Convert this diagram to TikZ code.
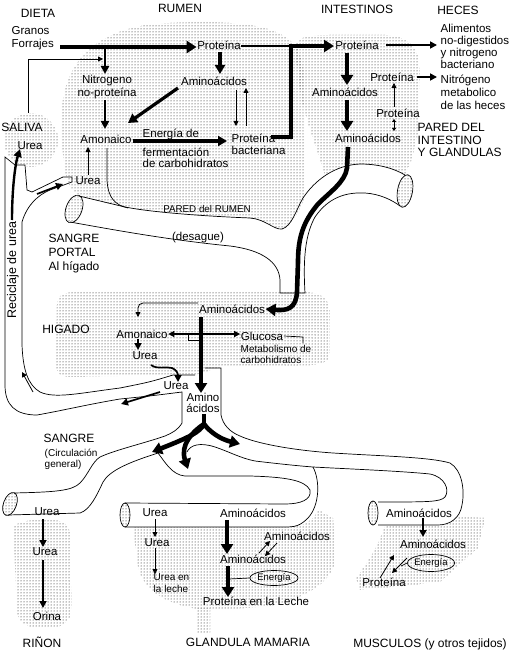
\documentclass[tikz,border=0pt]{standalone}
\usepackage{fontspec}
\setmainfont{Liberation Sans}
\usetikzlibrary{arrows.meta,patterns,shapes.geometric}
\begin{document}
\begin{tikzpicture}[x=1pt,y=-1pt,
  lbl/.style={font=\fontsize{11.5}{12.5}\selectfont,inner sep=0.5pt},
  hdr/.style={font=\fontsize{12}{13}\selectfont,inner sep=0.5pt},
  sml/.style={font=\fontsize{10}{10.5}\selectfont,inner sep=0.5pt},
  dotfill/.style={pattern=dots,pattern color=black},
  tube/.style={line width=0.7pt},
  thinarr/.style={line width=0.8pt,-{Triangle[length=5pt,width=5pt]}},
  smarr/.style={line width=1.2pt,-{Triangle[length=6pt,width=6pt]}},
  midarr/.style={line width=1.7pt,-{Triangle[length=7pt,width=7pt]}},
  medarr/.style={line width=2.4pt,-{Triangle[length=8pt,width=8pt]}},
  tkarr/.style={line width=3.2pt,-{Triangle[length=9pt,width=10pt]}},
  bigarr/.style={line width=4.6pt,-{Triangle[length=10pt,width=12pt]}},
  ell/.style={draw,ellipse,line width=0.7pt,inner sep=0pt,font=\fontsize{9.5}{10}\selectfont},
  openell/.style={draw,ellipse,line width=0.7pt,inner sep=0pt,pattern=dots,pattern color=black}
]
\path[use as bounding box,fill=white] (0,0) rectangle (515,650);

% ---------- dotted regions ----------
\path[dotfill] (62,120) .. controls (60,60) and (100,25) .. (170,23) .. controls (250,20) and (302,25) .. (303,70) -- (304,200) .. controls (298,215) and (290,226) .. (282,229) .. controls (275,230) and (265,219) .. (250,218) .. controls (200,216) and (150,212) .. (125,207) .. controls (100,202) .. (80,196) .. controls (66,190) and (62,170) .. cycle;
\path[dotfill] (295,48) .. controls (296,36) and (310,35) .. (330,35) -- (385,35) .. controls (412,36) and (420,50) .. (420,75) -- (418,130) .. controls (416,150) and (410,165) .. (405,175) .. controls (395,170) and (380,164) .. (360,164) .. controls (345,164) and (335,168) .. (325,176) .. controls (318,150) and (305,120) .. (300,90) -- cycle;
\path[dotfill] (31,140) circle (27);
\path[dotfill] (57,305) .. controls (57,294) and (65,292) .. (80,292) -- (300,292) .. controls (322,292) and (330,298) .. (330,315) -- (330,350) .. controls (330,362) and (322,365) .. (310,365) -- (222,367) -- (195,375) -- (70,377) .. controls (60,377) and (56,372) .. (56,365) -- cycle;
\path[dotfill] (14,530) .. controls (13,521) and (30,520) .. (45,520) .. controls (65,520) and (70,522) .. (70,540) -- (72,600) .. controls (72,620) and (68,628) .. (45,628) .. controls (20,628) and (16,620) .. (16,600) -- cycle;
\path[dotfill] (133,527) -- (290,527) .. controls (305,527) and (315,518) .. (318,510) -- (333,518) -- (335,560) .. controls (332,585) and (300,600) .. (265,607) -- (205,610) .. controls (165,605) and (140,590) .. (137,560) -- cycle;
\path[dotfill] (196,608) rectangle (210,632);
\path[dotfill] (378,526) -- (440,526) .. controls (450,524) and (455,520) .. (458,517) -- (485,518) -- (478,548) -- (440,582) -- (360,590) -- (356,578) .. controls (370,560) and (378,545) .. (385,526) -- cycle;

% ---------- tubes ----------
\draw[tube] (79,196) .. controls (100,201) .. (125,207) .. controls (150,212) and (200,216) .. (250,218) .. controls (265,219) and (274,230) .. (282,229) .. controls (292,226) and (296,210) .. (303,198) .. controls (315,180) and (335,165) .. (360,164) .. controls (380,164) and (395,169) .. (405,175);
\draw[tube] (70,222) .. controls (120,231) and (170,240) .. (230,246) .. controls (262,250) and (279,262) .. (280,280) -- (280,293) -- (305,293) .. controls (303,260) and (305,235) .. (315,217) .. controls (328,198) and (345,192) .. (365,193) .. controls (380,194) and (392,200) .. (400,206);
\draw[tube] (107,148) -- (107,180) .. controls (108,198) and (115,205) .. (128,208);
\draw[tube] (72,182) -- (50,190) .. controls (38,195) and (27,205) .. (22,222) -- (22,345) .. controls (23,370) and (28,385) .. (40,392) .. controls (55,399) and (80,393) .. (120,388) .. controls (150,382) .. (173,375) -- (195,375);
\draw[tube] (72,182) -- (72,177) -- (63,177) -- (32,192) -- (27,190) -- (25,165) -- (15,165) -- (5,157) -- (5,385) .. controls (5,405) and (15,415) .. (37,415) .. controls (60,411) and (90,404) .. (120,399) .. controls (150,396) .. (182,392) -- (182,423) .. controls (178,430) and (172,433) .. (165,436) .. controls (145,443) and (115,450) .. (100,457) .. controls (92,462) and (88,475) .. (80,483) .. controls (72,491) and (55,492) .. (14,493);
\draw[tube] (205,368) -- (221,368) -- (221,415) .. controls (223,425) and (230,432) .. (240,436) .. controls (255,443) and (290,450) .. (333,453) .. controls (380,456) and (430,457) .. (450,463) .. controls (462,470) and (465,490) .. (462,505) .. controls (460,518) and (450,525) .. (438,525) -- (378,525);
\draw[tube] (187,452) .. controls (190,445) and (200,442) .. (215,447) .. controls (230,452) and (240,458) .. (255,461) .. controls (280,464) and (300,466) .. (313,467) .. controls (350,469) and (400,471) .. (430,474) .. controls (445,477) and (450,490) .. (445,497) .. controls (440,502) and (430,502) .. (378,502);
\draw[tube] (313,467) .. controls (320,480) and (320,505) .. (308,518) .. controls (300,526) and (295,527) .. (285,527) -- (125,527);
\draw[tube] (8,515) -- (80,513) .. controls (90,510) and (97,495) .. (103,482) .. controls (110,470) and (130,462) .. (158,453) .. controls (165,462) and (172,475) .. (185,476) -- (250,476) .. controls (285,477) and (305,480) .. (310,490) .. controls (312,500) and (300,504) .. (285,504) -- (125,503);

\node[openell,minimum width=16pt,minimum height=29pt,rotate=-20] (rumEll) at (74,209) {};
\node[openell,minimum width=15pt,minimum height=33pt,rotate=-10] (intEll) at (405,191) {};
\node[openell,minimum width=13pt,minimum height=24pt,rotate=-20] (kidEll) at (10,504) {};
\node[openell,minimum width=10pt,minimum height=24pt] (mamEll) at (125,515) {};
\node[openell,minimum width=10pt,minimum height=24pt] (musEll) at (373,513) {};

% ---------- texts ----------
\node[hdr] (dieta) at (38,13) {DIETA};
\node[hdr] (rumenT) at (180,8) {RUMEN};
\node[hdr] (intT) at (357,9) {INTESTINOS};
\node[hdr] (hecesT) at (458,10) {HECES};
\node[lbl,anchor=west] (granos) at (11,31) {Granos};
\node[lbl,anchor=west] (forrajes) at (11,45) {Forrajes};
\node[lbl] (protR) at (219,45) {Proteína};
\node[lbl,align=center] (nitro) at (107,87) {Nitrogeno\\no-proteína};
\node[lbl] (aminoR) at (214,81) {Aminoácidos};
\node[lbl] (amonR) at (106,139) {Amonaico};
\node[lbl,anchor=north west] (energ1) at (142,128) {Energía de};
\node[lbl,anchor=north west] (energ2) at (142,147) {fermentación};
\node[lbl,anchor=north west] (energ3) at (142,158) {de carbohidratos};
\node[lbl,anchor=north west,align=left] (protB) at (231,133) {Proteína\\bacteriana};

\node[lbl] (protI) at (357,45) {Proteína};
\node[lbl] (aminoI1) at (345,92) {Aminoácidos};
\node[lbl] (aminoI2) at (368,138) {Aminoácidos};
\node[lbl] (protI2) at (392,77) {Proteína};
\node[lbl] (protI3) at (398,113) {Proteína};
\node[lbl,anchor=north west,align=left,font=\fontsize{11.5}{12.3}\selectfont] (alim) at (440,23) {Alimentos\\no-digestidos\\y nitrogeno\\bacteriano};
\node[lbl,anchor=north west,align=left,font=\fontsize{11.5}{13}\selectfont] (nmet) at (440,74) {Nitrógeno\\metabolico\\de las heces};
\node[hdr,anchor=north west,align=left,font=\fontsize{12}{12.3}\selectfont] (pared) at (417,123) {PARED DEL\\INTESTINO\\Y GLANDULAS};

\node[hdr] (saliva) at (22,127) {SALIVA};
\node[lbl] (ureaS) at (30,146) {Urea};
\node[lbl] (ureaR) at (88,181) {Urea};
\node[font=\fontsize{9.8}{10}\selectfont,inner sep=0.5pt] (paredR) at (207,209) {PARED del RUMEN};
\node[lbl] (desague) at (198,238) {(desague)};
\node[hdr,anchor=north west,align=left,font=\fontsize{12}{14.3}\selectfont] (portal) at (48,233) {SANGRE\\PORTAL\\Al hígado};
\node[font=\fontsize{12.5}{13}\selectfont,rotate=90,inner sep=0.5pt] (recic) at (13,270) {Reciclaje de urea};

\node[lbl] (aminoL) at (232,309) {Aminoácidos};
\node[hdr] (higado) at (66,329) {HIGADO};
\node[lbl] (amonL) at (142,334) {Amonaico};
\node[lbl] (glucosa) at (262,336) {Glucosa};
\node[sml,anchor=north west,align=left] (metab) at (240,345) {Metabolismo de\\carbohidratos};
\node[lbl] (ureaL) at (145,356) {Urea};
\node[lbl] (ureaO) at (176,386) {Urea};
\node[lbl] (aminoH1) at (203,397.5) {Amino};
\node[lbl] (aminoH2) at (203,408) {ácidos};

\node[hdr,anchor=north west] (sangre2) at (43,433) {SANGRE};
\node[sml,anchor=north west] (circ) at (44,448) {(Circulación};
\node[sml,anchor=north west] (general) at (44,460) {general)};

\node[lbl] (ureaK1) at (47,512) {Urea};
\node[lbl] (ureaK2) at (45,552) {Urea};
\node[lbl] (orina) at (47,616) {Orina};
\node[hdr] (rinon) at (42,642) {RIÑON};

\node[lbl] (ureaM1) at (155,513) {Urea};
\node[lbl] (aminoM1) at (253,513) {Aminoácidos};
\node[lbl] (ureaM2) at (157,543) {Urea};
\node[sml,anchor=north west,align=left,font=\fontsize{10}{12}\selectfont] (lecheU) at (153,573) {Urea en\\la leche};
\node[lbl] (aminoM2) at (253,559) {Aminoácidos};
\node[lbl] (aminoM3) at (297,536) {Aminoácidos};
\node[ell,minimum width=48pt,minimum height=15pt] (energM) at (274,578) {Energía};
\node[lbl] (protLeche) at (256,601) {Proteína en la Leche};
\node[hdr] (glandula) at (248,642) {GLANDULA MAMARIA};

\node[lbl] (aminoMu1) at (419,513) {Aminoácidos};
\node[lbl] (aminoMu2) at (433,544) {Aminoácidos};
\node[ell,minimum width=45pt,minimum height=17pt] (energMu) at (431,563) {Energía};
\node[lbl] (protMu) at (384,582) {Proteína};
\node[hdr] (musculos) at (430,644) {MUSCULOS (y otros tejidos)};

% ---------- coordinates ----------
\coordinate (fS) at (60,47);
\coordinate (jF) at (105,47);
\coordinate (nT) at (105,74);
\coordinate (salT) at (28,113);
\coordinate (salJ) at (103,59);
\coordinate (prS) at (220,52);
\coordinate (prE) at (220,74);
\coordinate (amS) at (178,88);
\coordinate (amE) at (128,123);
\coordinate (niS) at (105,100);
\coordinate (niE) at (105,129);
\coordinate (aoS) at (133,141);
\coordinate (aoE) at (227,141);
\coordinate (d1S) at (236,90);
\coordinate (d1E) at (236,126);
\coordinate (u1S) at (246,126);
\coordinate (u1E) at (246,88);
\coordinate (urS) at (88,175);
\coordinate (urE) at (88,147);
\coordinate (jI) at (291,46);
\coordinate (pbS) at (271,137);
\coordinate (piE) at (334,46);
\coordinate (alS) at (386,45);
\coordinate (alE) at (437,45);
\coordinate (pi1S) at (347,53);
\coordinate (pi1E) at (347,85);
\coordinate (ai1S) at (347,100);
\coordinate (ai1E) at (347,131);
\coordinate (p3S) at (394,107);
\coordinate (p3E) at (394,83);
\coordinate (dd1) at (394,119);
\coordinate (dd2) at (394,131);
\coordinate (p2S) at (417,77);
\coordinate (p2E) at (437,77);
\coordinate (ai2S) at (348,147);
\coordinate (lA1) at (198,303);
\coordinate (lA2) at (138,317);
\coordinate (lvS) at (201,317);
\coordinate (lvE) at (201,393);
\coordinate (hz) at (199,334);
\coordinate (alS2) at (138,339);
\coordinate (alE2) at (138,350);
\coordinate (ucS) at (151,365);
\coordinate (ucE) at (178,382);
\coordinate (uoS) at (160,392);
\coordinate (uoE) at (121,404);
\coordinate (rcS) at (33,392);
\coordinate (rcE) at (22,372);
\coordinate (svS) at (12,220);
\coordinate (svE) at (20,149);
\coordinate (rbS) at (37,194);
\coordinate (rbE) at (63,184);
\coordinate (jn0) at (204,414);
\coordinate (jn1) at (204,424);
\coordinate (jL) at (152,452);
\coordinate (jM) at (188,469);
\coordinate (jR) at (240,444);
\coordinate (k1S) at (43,519);
\coordinate (k1E) at (43,547);
\coordinate (k2S) at (43,560);
\coordinate (k2E) at (43,608);
\coordinate (m1S) at (155,519);
\coordinate (m1E) at (155,537);
\coordinate (m2S) at (155,548);
\coordinate (m2E) at (155,574);
\coordinate (m3S) at (227,520);
\coordinate (m3E) at (227,554);
\coordinate (m4S) at (228,566);
\coordinate (m4E) at (228,597);
\coordinate (m4L) at (229,579);
\coordinate (md1S) at (259,553);
\coordinate (md1E) at (270,541);
\coordinate (md2S) at (277,543);
\coordinate (md2E) at (265,556);
\coordinate (mu1S) at (423,518);
\coordinate (mu1E) at (423,537);
\coordinate (mu2S) at (380,578);
\coordinate (mu2E) at (394,555);
\coordinate (mu3S) at (407,558);
\coordinate (mu3E) at (392,573);
\coordinate (muL) at (401,566);

% ---------- connectors ----------
\draw[bigarr] (fS) -- (protR.west |- fS);
\draw[medarr] (jF) -- (nT);
\draw[thinarr] (salT) |- (salJ);
\draw[tkarr] (prS) -- (prE);
\draw[tkarr] (amS) -- (amE);
\draw[medarr] (niS) -- (niE);
\draw[tkarr] (aoS) -- (aoE);
\draw[thinarr] (d1S) -- (d1E);
\draw[thinarr] (u1S) -- (u1E);
\draw[thinarr] (urS) -- (urE);
\draw[line width=1.4pt] (protR.east |- jI) -- (jI);
\draw[bigarr,line join=miter] (pbS) -| (jI) -- (piE);
\draw[midarr] (alS) -- (alE);
\draw[bigarr] (pi1S) -- (pi1E);
\draw[bigarr] (ai1S) -- (ai1E);
\draw[thinarr] (p3S) -- (p3E);
\draw[line width=0.8pt,{Triangle[length=3pt,width=4pt]}-{Triangle[length=3pt,width=4pt]}] (dd1) -- (dd2);
\draw[midarr] (p2S) -- (p2E);
\draw[bigarr] (ai2S) -- (347,168) .. controls (345,182) and (330,192) .. (318,204) .. controls (303,222) and (298,238) .. (298,262) -- (297,292) .. controls (296,308) and (288,311) .. (aminoL.east);

\draw[thinarr,rounded corners=5pt] (lA1) -| (lA2);
\draw[bigarr] (lvS) -- (lvE);
\draw[smarr] (hz) -- (amonL.east);
\draw[smarr] (hz) -- (glucosa.west |- hz);
\draw[tube] (188,334) -- (188,340) -- (199,340);
\draw[tube] (glucosa.east) -- (303,337) -- (303,343);
\draw[midarr] (alS2) -- (alE2);
\draw[midarr] (ucS) .. controls (158,370) and (165,366) .. (172,368) .. controls (177,370) and (178,374) .. (ucE);
\draw[midarr] (uoS) -- (uoE);
\draw[thinarr] (rcS) -- (rcE);
\draw[medarr] (svS) .. controls (12,190) and (15,165) .. (svE);
\draw[midarr] (rbS) -- (rbE);

\draw[line width=4.6pt] (jn0) -- (jn1);
\draw[bigarr] (jn1) .. controls (200,432) and (190,437) .. (jL);
\draw[bigarr] (jn1) .. controls (192,432) and (180,445) .. (jM);
\draw[bigarr] (jn1) .. controls (210,432) and (220,439) .. (jR);

\draw[midarr] (k1S) -- (k1E);
\draw[midarr] (k2S) -- (k2E);

\draw[thinarr] (m1S) -- (m1E);
\draw[thinarr] (m2S) -- (m2E);
\draw[bigarr] (m3S) -- (m3E);
\draw[bigarr] (m4S) -- (m4E);
\draw[tube] (energM.west) -- (m4L);
\draw[thinarr] (md1S) -- (md1E);
\draw[thinarr] (md2S) -- (md2E);

\draw[midarr] (mu1S) -- (mu1E);
\draw[thinarr] (mu2S) -- (mu2E);
\draw[thinarr] (mu3S) -- (mu3E);
\draw[tube] (energMu.west) -- (muL);
\end{tikzpicture}
\end{document}
